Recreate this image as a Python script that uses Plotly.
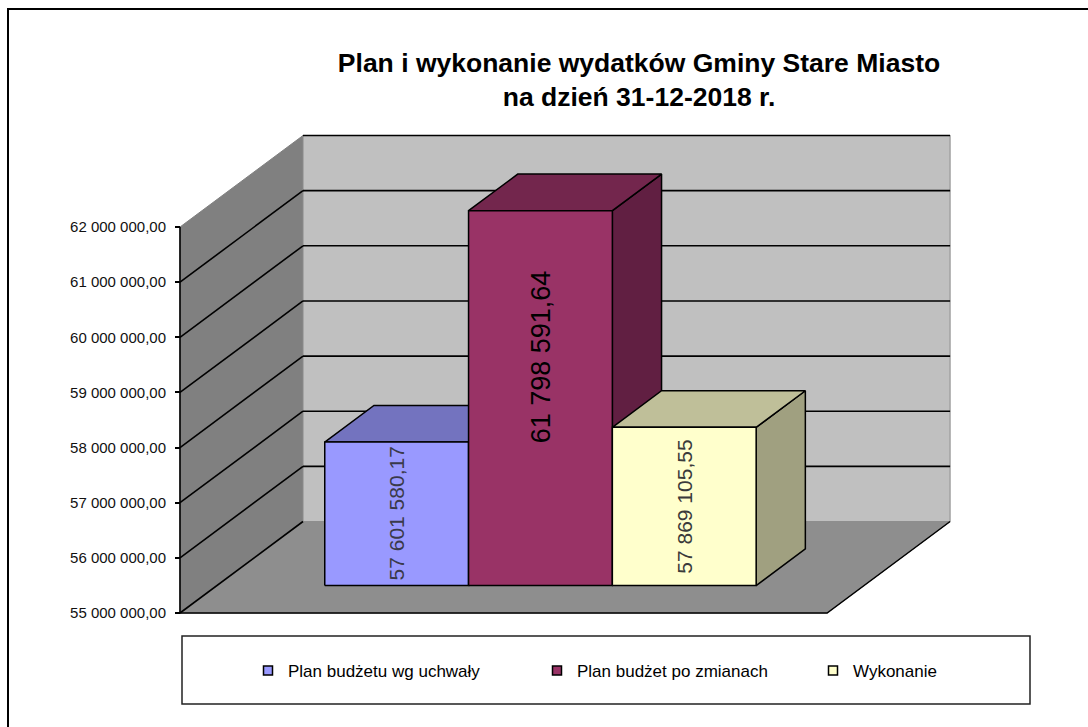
import plotly.graph_objects as go

# ---------------- data ----------------
categories = ["Plan budżetu wg uchwały", "Plan budżet po zmianach", "Wykonanie"]
values = [57601580.17, 61798591.64, 57869105.55]
value_labels = ["57 601 580,17", "61 798 591,64", "57 869 105,55"]
tick_values = [55e6, 56e6, 57e6, 58e6, 59e6, 60e6, 61e6, 62e6]
title_lines = ["Plan i wykonanie wydatków Gminy Stare Miasto", "na dzień 31-12-2018 r."]

# ---------------- style ----------------
front_colors = ["#9999FF", "#993366", "#FFFFCC"]
top_colors = ["#7373BF", "#73264D", "#BFBF99"]
side_colors = ["#5C5C99", "#611F42", "#A0A080"]
label_colors = ["#3a3a4a", "#000000", "#3a3a3a"]
label_sizes = [21, 27, 21]
label_pos = [0.5, 0.61, 0.5]          # fraction of bar height where label is centred

W, H = 1088, 727
PLOT_L, PLOT_R, PLOT_T, PLOT_B = 170, 960, 125, 623   # plot area in px
ORIGIN_X, ORIGIN_Y = 180, 613                         # front-left floor corner in px
PXU = 143.8            # px per x unit (one bar width)
PXV = 55.14e-6         # px per value unit
DEPTH_PX = (123.0, 91.5)
GAP = 1.5              # gap width (in bar widths)
F0, F1 = 0.3, 0.7      # bar depth extent (fraction of floor depth)

dxu = DEPTH_PX[0] / PXU
dyv = DEPTH_PX[1] / PXV
base = tick_values[0]
top = tick_values[-1]
floor_w = len(values) + GAP

x_range = [-(ORIGIN_X - PLOT_L) / PXU, (PLOT_R - ORIGIN_X) / PXU]
y_range = [base - (PLOT_B - ORIGIN_Y) / PXV, base + (ORIGIN_Y - PLOT_T) / PXV]

pw = PLOT_R - PLOT_L
ph = PLOT_B - PLOT_T


def paper_x(px):
    return (px - PLOT_L) / pw


def paper_y(py):
    return (PLOT_B - py) / ph


def P(x, v, f):
    return x + f * dxu, v + f * dyv


def poly(pts):
    xs = [p[0] for p in pts] + [pts[0][0]]
    ys = [p[1] for p in pts] + [pts[0][1]]
    return xs, ys


fig = go.Figure()


def add_poly(pts, fill, line_color="black", line_width=1.5):
    xs, ys = poly(pts)
    fig.add_trace(go.Scatter(x=xs, y=ys, mode="lines", fill="toself", fillcolor=fill,
                             line=dict(color=line_color, width=line_width),
                             hoverinfo="skip", showlegend=False))


# walls and floor
add_poly([P(0, base, 0), P(0, top, 0), P(0, top, 1), P(0, base, 1)], "#808080", "#808080", 1)
add_poly([P(0, base, 1), P(floor_w, base, 1), P(floor_w, top, 1), P(0, top, 1)], "#C0C0C0", "#8a8a8a", 1)
add_poly([P(0, base, 0), P(floor_w, base, 0), P(floor_w, base, 1), P(0, base, 1)], "#8E8E8E", "#8E8E8E", 1)
# floor front and right edges
fx, fy = zip(P(0, base, 0), P(floor_w, base, 0), P(floor_w, base, 1))
fig.add_trace(go.Scatter(x=list(fx), y=list(fy), mode="lines", line=dict(color="black", width=1.5),
                         hoverinfo="skip", showlegend=False))

# gridlines
gx, gy = [], []
for t in tick_values:
    if t != top:
        a, b = P(0, t, 0), P(0, t, 1)
        gx += [a[0], b[0], None]
        gy += [a[1], b[1], None]
    if t != base:
        a, b = P(0, t, 1), P(floor_w, t, 1)
        gx += [a[0], b[0], None]
        gy += [a[1], b[1], None]
fig.add_trace(go.Scatter(x=gx, y=gy, mode="lines", line=dict(color="black", width=1.6),
                         hoverinfo="skip", showlegend=False))

# value axis line at the front-left edge
fig.add_trace(go.Scatter(x=[0, 0], y=[base, top], mode="lines", line=dict(color="black", width=1.6),
                         hoverinfo="skip", showlegend=False))

# bars
for i, v in enumerate(values):
    x0 = GAP / 2 + i
    x1 = x0 + 1
    add_poly([P(x1, base, F0), P(x1, v, F0), P(x1, v, F1), P(x1, base, F1)], side_colors[i])
    add_poly([P(x0, v, F0), P(x1, v, F0), P(x1, v, F1), P(x0, v, F1)], top_colors[i])
    add_poly([P(x0, base, F0), P(x1, base, F0), P(x1, v, F0), P(x0, v, F0)], front_colors[i])
    cx, cy = P((x0 + x1) / 2, base + label_pos[i] * (v - base), F0)
    fig.add_annotation(x=cx, y=cy, text=value_labels[i], textangle=-90, showarrow=False,
                       font=dict(family="Liberation Sans, Arial", size=label_sizes[i], color=label_colors[i]),
                       xanchor="center", yanchor="middle")

# legends (one per series, placed individually)
legend_starts = [248, 537, 813]
legend_names = ["legend", "legend2", "legend3"]
for i, cat in enumerate(categories):
    fig.add_trace(go.Scatter(x=[None], y=[None], mode="markers", name=cat,
                             marker=dict(symbol="square", size=9, color=front_colors[i],
                                         line=dict(color="black", width=1.5)),
                             legend=legend_names[i], hoverinfo="skip"))

legend_common = dict(orientation="h", xanchor="left", yanchor="middle", bgcolor="rgba(0,0,0,0)",
                     borderwidth=0, font=dict(family="Liberation Sans, Arial", size=17, color="#000"),
                     itemclick=False, itemdoubleclick=False)
layout_legends = {}
for i, ln in enumerate(legend_names):
    layout_legends[ln] = dict(x=paper_x(legend_starts[i]), y=paper_y(671), **legend_common)

fig.update_layout(
    width=W, height=H,
    margin=dict(l=PLOT_L, r=W - PLOT_R, t=PLOT_T, b=H - PLOT_B, pad=0),
    paper_bgcolor="white", plot_bgcolor="white",
    separators=", ",
    showlegend=True,
    title=dict(text="<br>".join(title_lines), x=639 / W, xanchor="center", xref="container",
               y=1 - 72 / H, yanchor="middle", yref="container",
               font=dict(family="Liberation Sans, Arial", size=26.5, color="#000", weight="bold")),
    xaxis=dict(range=x_range, visible=False, fixedrange=True),
    yaxis=dict(range=y_range, tickvals=tick_values, tickformat=",.2f", showgrid=False, zeroline=False,
               showline=False, ticks="outside", ticklen=5, tickwidth=1.5, tickcolor="black",
               anchor="free", position=paper_x(ORIGIN_X), ticklabelstandoff=6,
               tickfont=dict(family="Liberation Sans, Arial", size=15, color="#111"), fixedrange=True),
    shapes=[
        dict(type="rect", xref="paper", yref="paper", x0=paper_x(8), x1=paper_x(1200),
             y0=paper_y(800), y1=paper_y(9), line=dict(color="black", width=2), layer="below"),
        dict(type="rect", xref="paper", yref="paper", x0=paper_x(182), x1=paper_x(1030),
             y0=paper_y(704), y1=paper_y(636), line=dict(color="#222", width=1.5), layer="below"),
    ],
    **layout_legends,
)

fig.write_html("out.html", config={"displayModeBar": False},
               post_script="document.body.style.margin='0';")
